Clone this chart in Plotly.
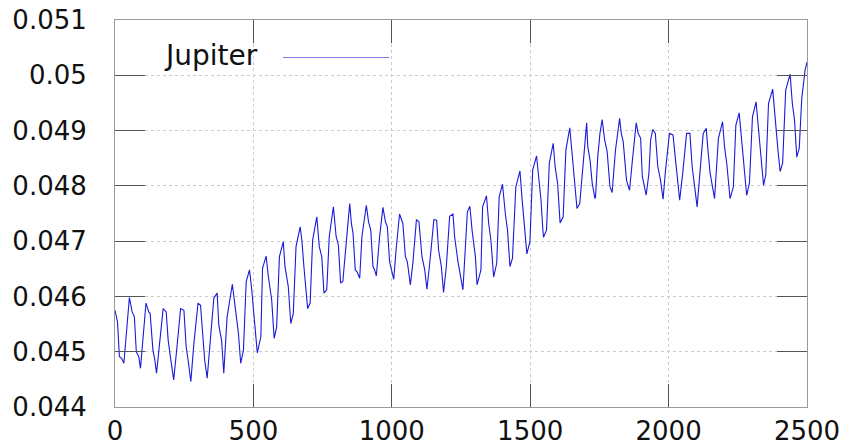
import plotly.graph_objects as go

# Jupiter orbital eccentricity over time
years = [
    0, 9, 16, 24, 32, 40, 44, 52, 62, 70, 77, 86, 92, 112, 122, 127, 137, 144, 150, 158,
    174, 185, 192, 200, 212, 224, 230, 237, 249, 257, 264, 274, 285, 300, 309, 317, 324, 333,
    341, 351, 357, 369, 375, 385, 393, 405, 424, 434, 446, 454, 464, 474, 486, 494, 506, 514,
    527, 533, 546, 554, 566, 575, 584, 594, 608, 614, 626, 635, 644, 654, 669, 675, 683, 693,
    696, 705, 714, 729, 738, 747, 755, 765, 774, 789, 799, 807, 815, 823, 848, 854, 860, 868,
    874, 884, 892, 908, 916, 924, 932, 938, 944, 956, 968, 977, 984, 992, 998, 1007, 1016,
    1022, 1028, 1040, 1049, 1056, 1067, 1076, 1089, 1098, 1109, 1119, 1127, 1137, 1152, 1162,
    1169, 1179, 1187, 1197, 1209, 1221, 1227, 1239, 1249, 1257, 1273, 1282, 1290, 1302, 1308,
    1322, 1328, 1342, 1350, 1358, 1368, 1379, 1388, 1400, 1410, 1418, 1427, 1436, 1448, 1463,
    1470, 1478, 1488, 1499, 1509, 1523, 1533, 1539, 1545, 1548, 1559, 1569, 1583, 1590, 1599,
    1608, 1619, 1629, 1643, 1653, 1663, 1669, 1679, 1701, 1704, 1708, 1716, 1724, 1734, 1736,
    1744, 1752, 1760, 1769, 1778, 1788, 1796, 1808, 1823, 1829, 1836, 1848, 1859, 1868, 1883,
    1890, 1899, 1905, 1919, 1929, 1935, 1943, 1952, 1961, 1971, 1980, 1989, 2003, 2016, 2025,
    2033, 2040, 2051, 2065, 2077, 2085, 2094, 2103, 2125, 2136, 2142, 2150, 2166, 2180, 2195,
    2202, 2210, 2222, 2234, 2243, 2255, 2262, 2270, 2282, 2292, 2303, 2316, 2324, 2331, 2343,
    2351, 2361, 2376, 2387, 2395, 2403, 2412, 2423, 2439, 2447, 2455, 2463, 2472, 2481, 2493,
    2500,
]

eccentricity = [
    0.04575, 0.04554, 0.04491, 0.04488, 0.04479, 0.04527, 0.04545, 0.04598, 0.04572, 0.04563,
    0.04500, 0.04491, 0.04470, 0.04588, 0.04572, 0.04569, 0.04503, 0.04485, 0.04461, 0.04503,
    0.04578, 0.04572, 0.04521, 0.04491, 0.04449, 0.04509, 0.04539, 0.04578, 0.04575, 0.04509,
    0.04485, 0.04446, 0.04515, 0.04588, 0.04584, 0.04527, 0.04485, 0.04452, 0.04503, 0.04569,
    0.04597, 0.04606, 0.04548, 0.04521, 0.04461, 0.04563, 0.04622, 0.04581, 0.04533, 0.04479,
    0.04503, 0.04627, 0.04648, 0.04612, 0.04551, 0.04498, 0.04527, 0.04651, 0.04673, 0.04636,
    0.04594, 0.04524, 0.04545, 0.04672, 0.04699, 0.04654, 0.04618, 0.04551, 0.04569, 0.04690,
    0.04726, 0.04702, 0.04651, 0.04599, 0.04578, 0.04588, 0.04702, 0.04744, 0.04690, 0.04672,
    0.04606, 0.04612, 0.04708, 0.04762, 0.04708, 0.04693, 0.04624, 0.04627, 0.04768, 0.04732,
    0.04714, 0.04648, 0.04645, 0.04633, 0.04708, 0.04765, 0.04735, 0.04720, 0.04654, 0.04648,
    0.04637, 0.04708, 0.04761, 0.04735, 0.04726, 0.04663, 0.04651, 0.04631, 0.04687, 0.04720,
    0.04749, 0.04732, 0.04672, 0.04663, 0.04621, 0.04660, 0.04739, 0.04735, 0.04672, 0.04648,
    0.04613, 0.04660, 0.04739, 0.04738, 0.04684, 0.04654, 0.04607, 0.04654, 0.04745, 0.04749,
    0.04708, 0.04663, 0.04636, 0.04612, 0.04753, 0.04763, 0.04720, 0.04672, 0.04621, 0.04648,
    0.04762, 0.04782, 0.04732, 0.04702, 0.04635, 0.04660, 0.04780, 0.04803, 0.04750, 0.04720,
    0.04654, 0.04669, 0.04798, 0.04827, 0.04780, 0.04732, 0.04677, 0.04699, 0.04829, 0.04854,
    0.04810, 0.04774, 0.04726, 0.04707, 0.04720, 0.04841, 0.04877, 0.04835, 0.04805, 0.04733,
    0.04744, 0.04865, 0.04905, 0.04847, 0.04792, 0.04759, 0.04768, 0.04889, 0.04914, 0.04871,
    0.04847, 0.04805, 0.04777, 0.04780, 0.04852, 0.04895, 0.04920, 0.04883, 0.04862, 0.04799,
    0.04788, 0.04864, 0.04922, 0.04895, 0.04880, 0.04810, 0.04792, 0.04840, 0.04914, 0.04895,
    0.04886, 0.04817, 0.04783, 0.04823, 0.04883, 0.04902, 0.04895, 0.04835, 0.04810, 0.04776,
    0.04829, 0.04895, 0.04892, 0.04847, 0.04810, 0.04774, 0.04823, 0.04895, 0.04895, 0.04835,
    0.04799, 0.04762, 0.04895, 0.04904, 0.04865, 0.04823, 0.04777, 0.04886, 0.04916, 0.04871,
    0.04841, 0.04777, 0.04798, 0.04910, 0.04932, 0.04895, 0.04854, 0.04783, 0.04805, 0.04925,
    0.04952, 0.04907, 0.04877, 0.04801, 0.04820, 0.04949, 0.04975, 0.04907, 0.04865, 0.04826,
    0.04841, 0.04973, 0.05002, 0.04949, 0.04919, 0.04852, 0.04868, 0.04958, 0.05009, 0.05024,
]

x_ticks = [0, 500, 1000, 1500, 2000, 2500]
x_tick_labels = ["0", "500", "1000", "1500", "2000", "2500"]
y_ticks = [0.044, 0.045, 0.046, 0.047, 0.048, 0.049, 0.050, 0.051]
y_tick_labels = ["0.044", "0.045", "0.046", "0.047", "0.048", "0.049", "0.05", "0.051"]

series_name = "Jupiter"
line_color = "#1a1ad8"
font_family = "DejaVu Sans"

fig = go.Figure()
fig.add_trace(go.Scatter(
    x=years, y=eccentricity, mode="lines", name=series_name,
    line=dict(color=line_color, width=1.1), showlegend=False,
))

axis_common = dict(
    showline=True, linecolor="#9a9a9a", linewidth=1, mirror="ticks",
    ticks="inside", tickcolor="#555555", tickwidth=1,
    showgrid=True, gridcolor="#cccccc", griddash="dot", gridwidth=1,
    zeroline=False, automargin=False,
    tickfont=dict(family=font_family, size=26, color="#111111"),
)

fig.update_xaxes(
    range=[0, 2500], tickvals=x_ticks, ticktext=x_tick_labels,
    ticklen=23, ticklabelstandoff=1, **axis_common,
)
fig.update_yaxes(
    range=[0.044, 0.051], tickvals=y_ticks, ticktext=y_tick_labels,
    ticklen=30, ticklabelstandoff=22, **axis_common,
)

# Key: label followed by a line sample, placed inside the plot frame
fig.add_annotation(
    xref="paper", yref="paper", x=0.068, y=0.908, xanchor="left", yanchor="middle",
    text=series_name, showarrow=False,
    font=dict(family=font_family, size=28, color="#111111"),
)
fig.add_shape(
    type="line", xref="paper", yref="paper", x0=0.243, x1=0.396, y0=0.903, y1=0.903,
    line=dict(color="#7a7ad8", width=1),
)

fig.update_layout(
    width=850, height=446,
    margin=dict(l=115, r=43, t=20, b=39),
    paper_bgcolor="white", plot_bgcolor="white",
    showlegend=False,
)

fig.write_html("out.html")
